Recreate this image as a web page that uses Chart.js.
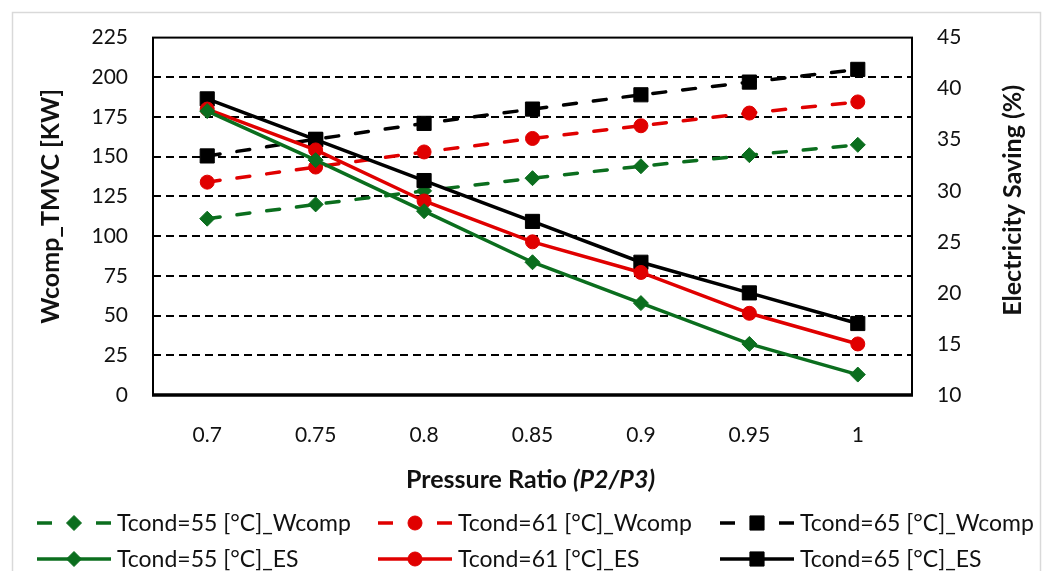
<!DOCTYPE html>
<html><head><meta charset="utf-8">
<script src="https://cdn.jsdelivr.net/npm/chart.js@4.4.0/dist/chart.umd.min.js"></script>
<style>html,body{margin:0;padding:0;background:#fff;}</style>
</head><body>
<canvas id="c" width="1051" height="571" style="display:block;width:1051px;height:571px"></canvas>
<script>
const categories = ['0.7', '0.75', '0.8', '0.85', '0.9', '0.95', '1'];
const wcomp55 = [111, 120, 128.5, 136.5, 144, 151, 157.5];
const wcomp61 = [134, 143.5, 153, 161.5, 169.5, 177.5, 184.5];
const wcomp65 = [150.5, 161, 171, 180, 189, 197, 205];
const es55 = [37.8, 33, 28, 23, 19, 15, 12];
const es61 = [38, 34, 29, 25, 22, 18, 15];
const es65 = [39, 35, 31, 27, 23, 20, 17];
const leftAxis = { min: 0, max: 225, step: 25 };
const rightAxis = { min: 10, max: 45, step: 5 };
const names = ['Tcond=55 [°C]_Wcomp', 'Tcond=61 [°C]_Wcomp', 'Tcond=65 [°C]_Wcomp',
               'Tcond=55 [°C]_ES', 'Tcond=61 [°C]_ES', 'Tcond=65 [°C]_ES'];
const leftTitle = 'Wcomp_TMVC [KW]';
const rightTitle = 'Electricity Saving (%)';
const xTitleMain = 'Pressure Ratio ';
const xTitleItalic = '(P2/P3)';

const GREEN = '#0b6e1e', RED = '#e00000', BLACK = '#000000';
const FONT = "Lato, 'DejaVu Sans', sans-serif";
const TXT = '#111111';
const styles = [
  { c: GREEN, ps: 'rectRot', r: 7.5 },
  { c: RED, ps: 'circle', r: 7 },
  { c: BLACK, ps: 'rect', r: 10 }
];
const DASH = [13, 17];

function mk(i, data, dashed) {
  const s = styles[i % 3];
  return {
    label: names[i], data: data,
    yAxisID: dashed ? 'y' : 'y1',
    borderColor: s.c, backgroundColor: s.c,
    borderWidth: 3.5, borderDash: dashed ? DASH : [], borderCapStyle: dashed ? 'round' : 'butt',
    pointStyle: s.ps, pointRadius: s.r, pointHoverRadius: s.r,
    pointBackgroundColor: s.c, pointBorderColor: s.c, pointBorderWidth: 1,
    tension: 0, fill: false, order: dashed ? 1 : 0
  };
}

const decor = {
  id: 'decor',
  beforeDraw(chart) {
    const ctx = chart.ctx;
    ctx.save();
    ctx.fillStyle = '#fff';
    ctx.fillRect(0, 0, chart.width, chart.height);
    ctx.strokeStyle = '#d9d9d9';
    ctx.lineWidth = 1.5;
    ctx.strokeRect(12.5, 12.5, 1028, 620);
    ctx.restore();
  },
  beforeDatasetsDraw(chart) {
    const ctx = chart.ctx, a = chart.chartArea;
    ctx.save();
    ctx.strokeStyle = '#000';
    ctx.lineWidth = 2;
    ctx.strokeRect(a.left, a.top, a.right - a.left, a.bottom - a.top);
    ctx.lineWidth = 3.5;
    ctx.beginPath();
    ctx.moveTo(a.left - 1, a.bottom);
    ctx.lineTo(a.right + 1, a.bottom);
    ctx.stroke();
    ctx.restore();
  },
  afterDraw(chart) {
    const ctx = chart.ctx, a = chart.chartArea;
    ctx.save();
    ctx.fillStyle = TXT;
    ctx.textBaseline = 'middle';
    ctx.textAlign = 'center';
    ctx.font = 'bold 25px ' + FONT;
    const cy = (a.top + a.bottom) / 2;
    // left title
    ctx.save(); ctx.translate(51, cy - 10); ctx.rotate(-Math.PI / 2);
    ctx.fillText(leftTitle, 0, 0); ctx.restore();
    // right title (reads bottom to top)
    ctx.save(); ctx.translate(1013, cy - 16); ctx.rotate(-Math.PI / 2);
    ctx.fillText(rightTitle, 0, 0); ctx.restore();
    // x title with italic part
    ctx.textAlign = 'left';
    const f1 = 'bold 25px ' + FONT, f2 = 'italic bold 25px ' + FONT;
    ctx.font = f1; const w1 = ctx.measureText(xTitleMain).width;
    ctx.font = f2; const w2 = ctx.measureText(xTitleItalic).width;
    const xc = (a.left + a.right) / 2 - 2;
    const x0 = xc - (w1 + w2) / 2;
    ctx.font = f1; ctx.fillText(xTitleMain, x0, 480);
    ctx.font = f2; ctx.fillText(xTitleItalic, x0 + w1, 480);
    // legend
    const cols = [37, 378, 720], rows = [523, 559];
    ctx.font = '23px ' + FONT;
    chart.data.datasets.forEach((ds, i) => {
      const col = i % 3, row = Math.floor(i / 3);
      const lx = cols[col], ly = rows[row];
      const s = styles[col];
      ctx.strokeStyle = s.c; ctx.fillStyle = s.c; ctx.lineWidth = 3.5;
      ctx.beginPath();
      if (row === 0) ctx.setLineDash([15, 44]); else ctx.setLineDash([]);
      ctx.lineCap = 'butt';
      ctx.moveTo(lx, ly); ctx.lineTo(lx + 74, ly); ctx.stroke();
      ctx.setLineDash([]);
      ctx.lineWidth = 1;
      Chart.helpers.drawPoint(ctx, { pointStyle: s.ps, radius: s.r, rotation: 0, borderWidth: 1 }, lx + 37, ly);
      ctx.fillStyle = TXT;
      ctx.textAlign = 'left';
      ctx.fillText(ds.label, lx + 80, ly + 1);
    });
    ctx.restore();
  }
};

const tickFont = { family: FONT, size: 21 };
new Chart(document.getElementById('c'), {
  type: 'line',
  data: {
    labels: categories,
    datasets: [
      mk(0, wcomp55, true), mk(1, wcomp61, true), mk(2, wcomp65, true),
      mk(3, es55, false), mk(4, es61, false), mk(5, es65, false)
    ]
  },
  options: {
    responsive: false, animation: false, devicePixelRatio: 1,
    layout: { padding: { top: 25, left: 20, right: 16, bottom: 0 } },
    plugins: { legend: { display: false }, tooltip: { enabled: false } },
    scales: {
      x: {
        type: 'category', offset: true,
        grid: { display: false }, border: { display: false },
        ticks: { color: TXT, font: tickFont, padding: 20, maxRotation: 0 },
        afterFit(s) { s.height = 176; }
      },
      y: {
        position: 'left', min: leftAxis.min, max: leftAxis.max,
        ticks: { stepSize: leftAxis.step, color: TXT, font: tickFont, padding: 25 },
        grid: {
          drawTicks: false, lineWidth: 2,
          color: (c) => (c.tick && (c.tick.value === leftAxis.min || c.tick.value === leftAxis.max)) ? 'rgba(0,0,0,0)' : '#000'
        },
        border: { display: false, dash: [8, 5] },
        afterFit(s) { s.width = 133; }
      },
      y1: {
        position: 'right', min: rightAxis.min, max: rightAxis.max,
        ticks: { stepSize: rightAxis.step, color: TXT, font: tickFont, padding: 25 },
        grid: { display: false, drawTicks: false }, border: { display: false },
        afterFit(s) { s.width = 123; }
      }
    }
  },
  plugins: [decor]
});
</script>
</body></html>
